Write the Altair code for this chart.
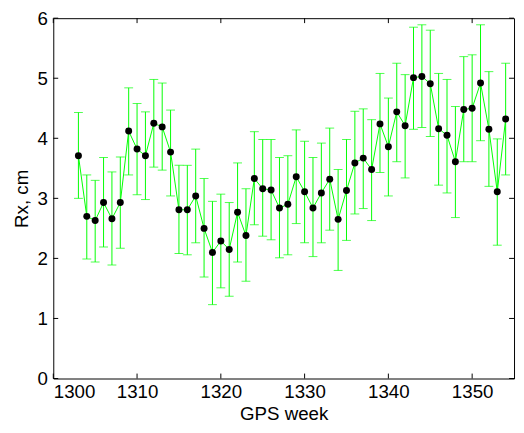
import altair as alt
import pandas as pd

weeks = list(range(1303, 1355))
rx = [3.71, 2.70, 2.63, 2.93, 2.66, 2.93, 4.12, 3.82, 3.71, 4.25,
      4.19, 3.77, 2.81, 2.81, 3.04, 2.50, 2.10, 2.29, 2.15, 2.77,
      2.38, 3.33, 3.16, 3.14, 2.84, 2.90, 3.36, 3.11, 2.84, 3.09,
      3.32, 2.65, 3.13, 3.59, 3.67, 3.48, 4.24, 3.86, 4.44, 4.21,
      5.01, 5.03, 4.91, 4.16, 4.05, 3.61, 4.48, 4.50, 4.92, 4.15,
      3.11, 4.32]
upper = [4.43, 3.39, 3.30, 3.68, 3.44, 3.69, 4.84, 4.58, 4.44, 4.98,
         4.92, 4.47, 3.55, 3.55, 3.82, 3.33, 2.95, 3.07, 2.93, 3.59,
         3.16, 4.11, 3.98, 3.98, 3.68, 3.71, 4.14, 3.95, 3.68, 3.92,
         4.17, 3.48, 3.98, 4.45, 4.49, 4.31, 5.08, 4.67, 5.25, 5.06,
         5.85, 5.89, 5.80, 5.08, 4.98, 4.53, 5.36, 5.39, 5.89, 5.11,
         3.99, 5.25]
lower = [3.00, 1.99, 1.94, 2.19, 1.89, 2.17, 3.39, 3.06, 2.98, 3.52,
         3.47, 3.04, 2.08, 2.06, 2.26, 1.69, 1.23, 1.51, 1.37, 1.94,
         1.62, 2.56, 2.37, 2.31, 2.01, 2.06, 2.58, 2.26, 2.03, 2.26,
         2.47, 1.80, 2.30, 2.74, 2.83, 2.63, 3.43, 3.04, 3.61, 3.34,
         4.15, 4.18, 4.03, 3.22, 3.09, 2.68, 3.61, 3.61, 3.96, 3.20,
         2.22, 3.39]

x_ticks = [1300, 1310, 1320, 1330, 1340, 1350]
y_ticks = [0, 1, 2, 3, 4, 5, 6]

W, H = 468, 366
FONT = "Liberation Sans"
GREEN = "#00ff00"

df = pd.DataFrame({"week": weeks, "rx": rx, "lo": lower, "hi": upper})
xt = pd.DataFrame({"t": x_ticks})
yt = pd.DataFrame({"t": y_ticks})

xscale = alt.Scale(domain=[1300, 1355], nice=False, zero=False)
yscale = alt.Scale(domain=[0, 6], nice=False)

xaxis = alt.Axis(values=x_ticks, title="GPS week", format="d", domain=False, ticks=False,
                 grid=False, labelFont=FONT, labelFontSize=19, labelColor="black",
                 titleFont=FONT, titleFontSize=19, titleFontWeight="normal", titleColor="black",
                 labelPadding=4, titlePadding=4)
yaxis = alt.Axis(values=y_ticks, title="Rx, cm", format="d", domain=False, ticks=False,
                 grid=False, labelFont=FONT, labelFontSize=19, labelColor="black",
                 titleFont=FONT, titleFontSize=19, titleFontWeight="normal", titleColor="black",
                 labelPadding=6, titlePadding=6)

base = alt.Chart(df)

bars = base.mark_rule(color=GREEN, strokeWidth=1).encode(
    x=alt.X("week:Q", scale=xscale, axis=xaxis),
    y=alt.Y("lo:Q", scale=yscale, axis=yaxis),
    y2="hi:Q",
)
cap_lo = base.mark_tick(color=GREEN, orient="horizontal", size=9, thickness=1).encode(
    x="week:Q", y="lo:Q")
cap_hi = base.mark_tick(color=GREEN, orient="horizontal", size=9, thickness=1).encode(
    x="week:Q", y="hi:Q")
line = base.mark_line(color=GREEN, strokeWidth=1).encode(x="week:Q", y="rx:Q")
pts = base.mark_point(filled=True, color="black", size=50, opacity=1, shape="circle").encode(
    x="week:Q", y="rx:Q")

tb = alt.Chart(xt).mark_rule(color="black").encode(
    x="t:Q", y=alt.value(H), y2=alt.value(H - 5))
tt = alt.Chart(xt).mark_rule(color="black").encode(
    x="t:Q", y=alt.value(0), y2=alt.value(5))
tl = alt.Chart(yt).mark_rule(color="black").encode(
    y="t:Q", x=alt.value(0), x2=alt.value(5))
tr = alt.Chart(yt).mark_rule(color="black").encode(
    y="t:Q", x=alt.value(W), x2=alt.value(W - 5))

chart = alt.layer(bars, cap_lo, cap_hi, line, pts, tb, tt, tl, tr).properties(
    width=W, height=H,
    autosize=alt.AutoSizeParams(type="none"),
    padding={"left": 46, "top": 7, "right": 2, "bottom": 52},
    background="white",
).configure_view(stroke="black", strokeWidth=1)

chart.save("out.html", embed_options={"renderer": "svg", "actions": False})
